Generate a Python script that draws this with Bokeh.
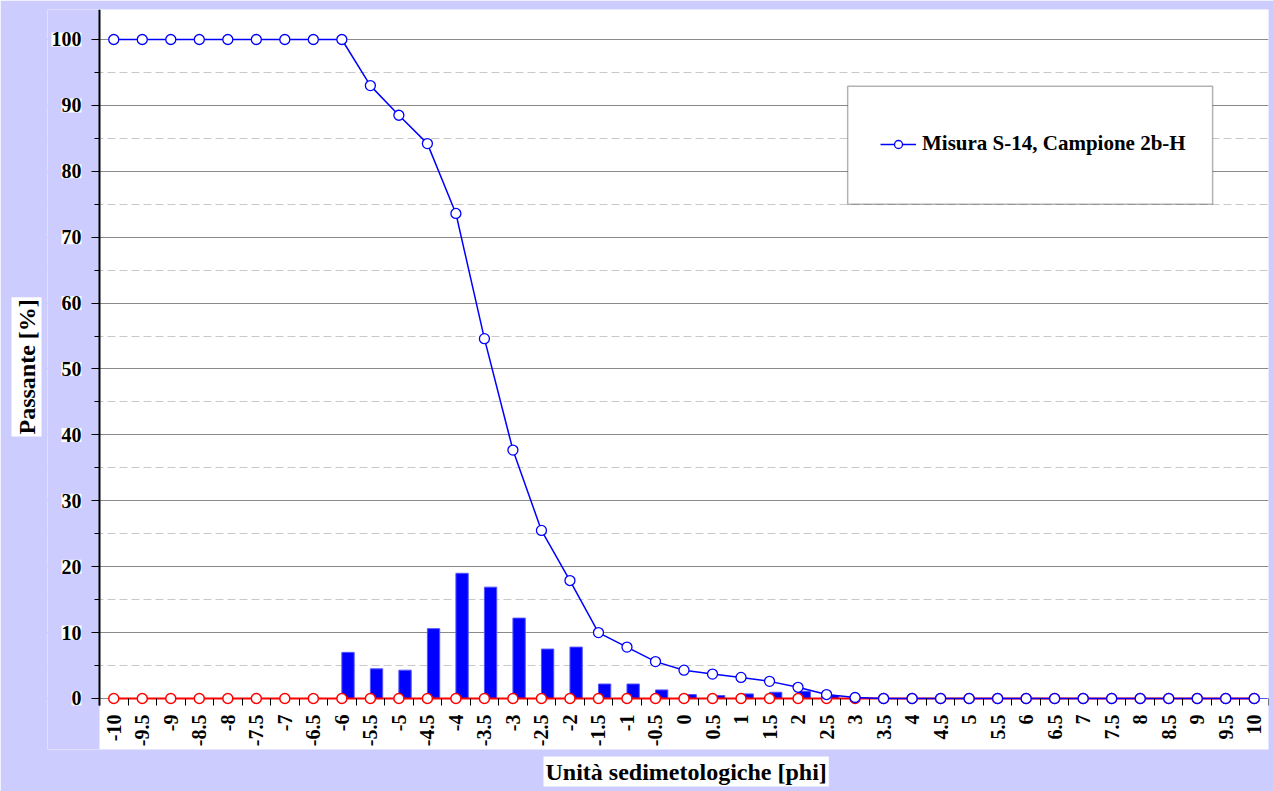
import math
from bokeh.plotting import figure
from bokeh.models import (ColumnDataSource, FixedTicker, BoxAnnotation, Legend,
                          LegendItem, Range1d, LabelSet, Title)
from bokeh.transform import dodge
from bokeh.embed import file_html
from bokeh.resources import INLINE

# ---- data ----
phi = [-10, -9.5, -9, -8.5, -8, -7.5, -7, -6.5, -6, -5.5, -5, -4.5, -4, -3.5, -3,
       -2.5, -2, -1.5, -1, -0.5, 0, 0.5, 1, 1.5, 2, 2.5, 3, 3.5, 4, 4.5, 5, 5.5,
       6, 6.5, 7, 7.5, 8, 8.5, 9, 9.5, 10]
tick_labels = ["-10", "-9.5", "-9", "-8.5", "-8", "-7.5", "-7", "-6.5", "-6", "-5.5",
               "-5", "-4.5", "-4", "-3.5", "-3", "-2.5", "-2", "-1.5", "-1", "-0.5",
               "0", "0.5", "1", "1.5", "2", "2.5", "3", "3.5", "4", "4.5", "5", "5.5",
               "6", "6.5", "7", "7.5", "8", "8.5", "9", "9.5", "10"]
passante = [100, 100, 100, 100, 100, 100, 100, 100, 100, 93.0, 88.5, 84.2, 73.6,
            54.6, 37.7, 25.5, 17.9, 10.0, 7.8, 5.6, 4.3, 3.7, 3.2, 2.6, 1.7, 0.6,
            0.15, 0, 0, 0, 0, 0, 0, 0, 0, 0, 0, 0, 0, 0, 0]
trattenuto = [0, 0, 0, 0, 0, 0, 0, 0, 7.0, 4.5, 4.3, 10.6, 19.0, 16.9, 12.2, 7.5,
              7.8, 2.2, 2.2, 1.3, 0.6, 0.45, 0.7, 0.95, 1.1, 0.45, 0.15, 0, 0, 0, 0,
              0, 0, 0, 0, 0, 0, 0, 0, 0, 0]
serie_rossa = [0, 0, 0, 0, 0, 0, 0, 0, 0, 0, 0, 0, 0, 0, 0, 0, 0, 0, 0, 0, 0, 0,
               0, 0, 0, 0, 0, 0, 0, 0, 0, 0, 0, 0, 0, 0, 0, 0, 0, 0, 0]
y_major = [0, 10, 20, 30, 40, 50, 60, 70, 80, 90, 100]
y_tick_labels = ["0", "10", "20", "30", "40", "50", "60", "70", "80", "90", "100"]
y_minor = [5, 15, 25, 35, 45, 55, 65, 75, 85, 95]
legend_label = "Misura S-14, Campione 2b-H"
x_title = "Unità sedimetologiche [phi]"
y_title = "Passante [%]"

src = ColumnDataSource(dict(phi=phi, passante=passante, trattenuto=trattenuto,
                            rossa=serie_rossa))
xlab_src = ColumnDataSource(dict(phi=phi, lbl=tick_labels))
ylab_src = ColumnDataSource(dict(v=y_major, lbl=y_tick_labels))

FONT = "Liberation Serif"
LAV = "#ccccff"

# plotting extents (the frame also covers the tick-label margins)
X0, X1 = -10.25, 10.25          # category span of the chart
Y0, Y1 = -1.062, 104.55         # bottom of tick marks / top of plot area
XF0, YF0 = -11.162, -7.739      # frame extended left / down for the labels


def set_if(obj, name, val):
    if name in obj.properties():
        setattr(obj, name, val)


p = figure(width=1273, height=791, output_backend="svg", toolbar_location=None,
           x_range=Range1d(XF0, X1), y_range=Range1d(YF0, Y1),
           min_border_left=47, min_border_right=5, min_border_top=9,
           min_border_bottom=42, background_fill_color=None, border_fill_color=LAV,
           outline_line_color=None)

# white plot area from 0 upward
p.add_layout(BoxAnnotation(left=X0, bottom=0, fill_color="white", fill_alpha=1,
                           line_color=None, level="image"))

# grid
p.xgrid.visible = False
p.ygrid.ticker = FixedTicker(ticks=y_major, minor_ticks=y_minor)
p.ygrid.grid_line_color = "#8a8a8a"
p.ygrid.grid_line_width = 1
p.ygrid.minor_grid_line_color = "#c8c8c8"
p.ygrid.minor_grid_line_dash = "8 4"
# hide grid lines in the label margin
p.add_layout(BoxAnnotation(right=X0, fill_color=LAV, fill_alpha=1,
                           line_color=None, level="underlay"))

# bars (offset to the right of the category centre, as in the reference)
p.vbar(x=dodge("phi", 0.108), top="trattenuto", bottom=0, width=0.216, source=src,
       fill_color="#0000ff", line_color="#5555ff", line_width=1)

# red series
p.line("phi", "rossa", source=src, line_color="#ff0000", line_width=2)
p.scatter("phi", "rossa", source=src, marker="circle", size=10, fill_color="white",
          line_color="#ff0000", line_width=1.5)

# blue cumulative series
bl = p.line("phi", "passante", source=src, line_color="#0000ff", line_width=1.5)
bs = p.scatter("phi", "passante", source=src, marker="circle", size=10,
               fill_color="white", line_color="#0000ff", line_width=1.3)

# y axis
ya = p.yaxis[0]
ya.fixed_location = X0
ya.bounds = (Y0, Y1)
ya.ticker = FixedTicker(ticks=y_major, minor_ticks=y_minor)
ya.axis_line_color = "black"
ya.axis_line_width = 2
ya.major_tick_out = 8
ya.major_tick_in = 0
ya.minor_tick_out = 5
ya.minor_tick_in = 0
ya.major_tick_line_color = "black"
ya.minor_tick_line_color = "black"
ya.major_label_text_color = None

# x axis
boundaries = [v - 0.25 for v in phi] + [phi[-1] + 0.25]
xa = p.xaxis[0]
xa.fixed_location = Y0
xa.bounds = (X0, X1)
xa.ticker = FixedTicker(ticks=phi, minor_ticks=boundaries)
xa.axis_line_color = None
xa.major_tick_in = 0
xa.major_tick_out = 0
xa.minor_tick_in = 7
xa.minor_tick_out = 0
xa.minor_tick_line_color = "black"
xa.major_label_text_color = None

# tick labels on white boxes
xl = LabelSet(x="phi", y=Y0, y_offset=-9, text="lbl", source=xlab_src,
              angle=math.pi / 2, text_align="right", text_baseline="middle",
              text_font=FONT, text_font_style="bold", text_font_size="20px",
              text_color="black", background_fill_color="white")
set_if(xl, "padding", 2)
p.add_layout(xl)
yl = LabelSet(x=X0, x_offset=-18, y="v", text="lbl", source=ylab_src,
              text_align="right", text_baseline="middle",
              text_font=FONT, text_font_style="bold", text_font_size="20px",
              text_color="black", background_fill_color="white")
set_if(yl, "padding", 1)
p.add_layout(yl)

# axis titles on white boxes
tx = Title(text=x_title, align="left", offset=496, text_font=FONT,
           text_font_style="bold", text_font_size="24px", text_color="black",
           background_fill_color="white")
set_if(tx, "padding", 2)
p.add_layout(tx, "below")
ty = Title(text=y_title, align="left", offset=313, text_font=FONT,
           text_font_style="bold", text_font_size="24px", text_color="black",
           background_fill_color="white")
set_if(ty, "padding", 2)
set_if(ty, "standoff", 12)
p.add_layout(ty, "left")

# legend box and legend
p.add_layout(BoxAnnotation(left=2.87, right=9.27, bottom=75.0, top=92.9,
                           fill_color="white", fill_alpha=1, line_color="black",
                           line_width=1.5))
legend = Legend(items=[LegendItem(label=legend_label, renderers=[bl, bs])],
                location=(833, 593), border_line_color=None,
                background_fill_alpha=0, padding=0, margin=0, spacing=0,
                glyph_width=36, glyph_height=20, label_height=20, label_standoff=6,
                label_text_font=FONT, label_text_font_style="bold",
                label_text_font_size="21px", label_text_color="black")
p.add_layout(legend)

open("out.html", "w").write(file_html(p, INLINE))
